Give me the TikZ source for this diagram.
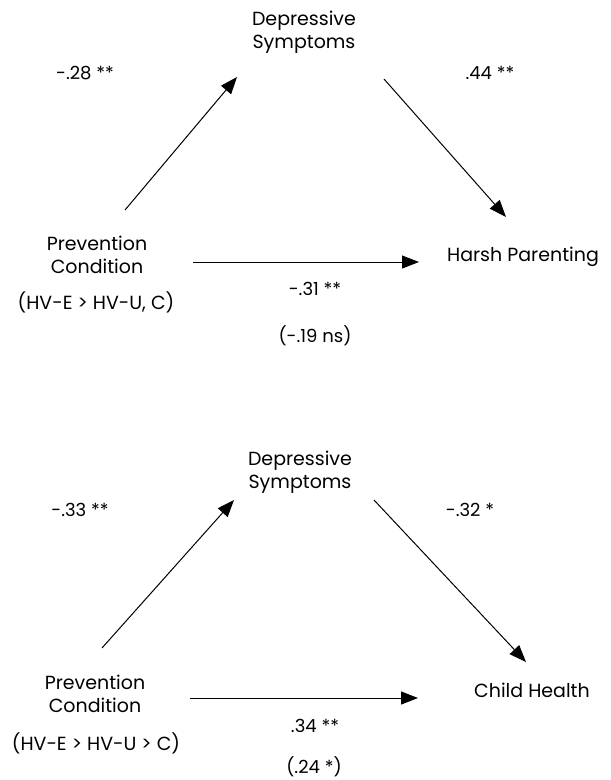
\documentclass[tikz,border=0pt]{standalone}
\usepackage{fontspec}
\setmainfont{Poppins}
\usetikzlibrary{arrows.meta}
\begin{document}
\begin{tikzpicture}[x=1pt,y=-1pt,
  lbl/.style={font=\fontsize{19}{23}\selectfont, align=center, inner sep=0pt},
  coef/.style={font=\fontsize{18}{22}\selectfont, inner sep=0pt},
  arr/.style={line width=1pt, -{Triangle[length=17pt,width=13pt]}}]
\useasboundingbox (0,0) rectangle (611,780);
% ---------- top panel ----------
\node[lbl] (ds1) at (304,32) {Depressive\\Symptoms};
\node[coef] (c1) at (85,73) {-.28 **};
\node[coef] (c2) at (490,73) {.44 **};
\node[lbl] (pc1) at (97,255) {Prevention\\Condition};
\node[lbl] (g1) at (96,302) {(HV-E > HV-U, C)};
\node[lbl] (hp) at (523,257) {Harsh Parenting};
\node[coef] (c3) at (315,289) {-.31 **};
\node[coef] (c4) at (315,336) {(-.19 ns)};
\coordinate (a1s) at (125,210); \coordinate (a1e) at (237,77);
\coordinate (a2s) at (384,79);  \coordinate (a2e) at (506,217);
\coordinate (a3s) at (193,262); \coordinate (a3e) at (419,262);
\draw[arr] (a1s) -- (a1e);
\draw[arr] (a2s) -- (a2e);
\draw[arr] (a3s) -- (a3e);
% ---------- bottom panel ----------
\node[lbl] (ds2) at (300,472) {Depressive\\Symptoms};
\node[coef] (c5) at (80,510) {-.33 **};
\node[coef] (c6) at (470,510) {-.32 *};
\node[lbl] (pc2) at (95,694) {Prevention\\Condition};
\node[lbl] (g2) at (96,743) {(HV-E > HV-U > C)};
\node[lbl] (ch) at (532,690) {Child Health};
\node[coef] (c7) at (315,726) {.34 **};
\node[coef] (c8) at (314,767) {(.24 *)};
\coordinate (b1s) at (102,648); \coordinate (b1e) at (234,500);
\coordinate (b2s) at (374,500); \coordinate (b2e) at (526,662);
\coordinate (b3s) at (190,698); \coordinate (b3e) at (418,698);
\draw[arr] (b1s) -- (b1e);
\draw[arr] (b2s) -- (b2e);
\draw[arr] (b3s) -- (b3e);
\end{tikzpicture}
\end{document}
